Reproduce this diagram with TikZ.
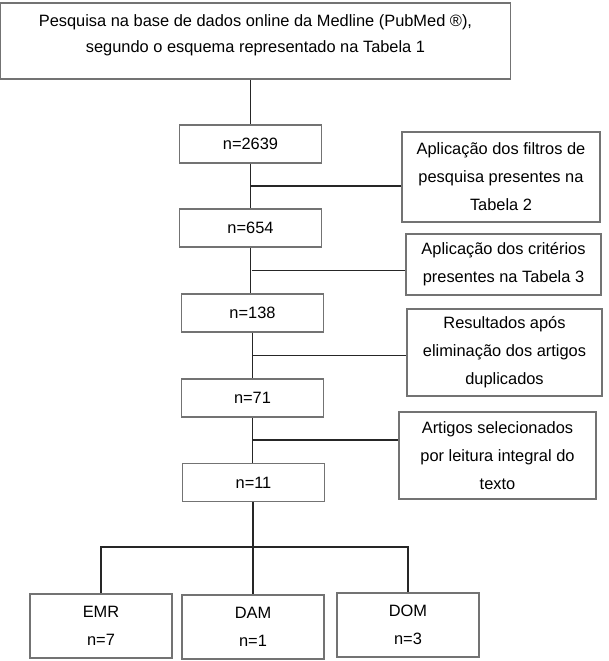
\documentclass[tikz,border=0pt]{standalone}
\usepackage{fontspec}
\setmainfont{Liberation Sans}
\usetikzlibrary{calc}

\begin{document}
\begin{tikzpicture}[x=0.75pt,y=-0.75pt,
  box/.style={draw=black!55,line width=0.8pt,inner sep=0pt,align=center,
    font=\fontsize{12.3}{21}\selectfont},
  count/.style={box,minimum width=106.5pt,minimum height=28.5pt},
  leaf/.style={box,minimum width=106.5pt,minimum height=48pt},
  link/.style={draw=black!85,line width=1.2pt}]
  \useasboundingbox (0,0) rectangle (609,661);
  % search box
  \node[box,minimum width=382pt,minimum height=57pt] (search) at (255.5,41) {};
  \node[align=center,inner sep=0pt,font=\fontsize{12.3}{19.5}\selectfont] (searchtext) at (255.5,35)
    {Pesquisa na base de dados online da Medline (PubMed ®),\\segundo o esquema representado na Tabela 1};
  % counts
  \node[count] (n1) at (250.5,144) {n=2639};
  \node[count] (n2) at (250.5,228) {n=654};
  \node[count] (n3) at (252.5,313) {n=138};
  \node[count] (n4) at (252.5,398) {n=71};
  \node[count] (n5) at (253.5,482.5) {n=11};
  % notes
  \node[box,minimum width=148.5pt,minimum height=67.5pt] (filtros) at (501,177)
    {Aplicação dos filtros de\\pesquisa presentes na\\Tabela 2};
  \node[box,minimum width=146.25pt,minimum height=45.75pt] (criterios) at (503.5,264.5)
    {Aplicação dos critérios\\presentes na Tabela 3};
  \node[box,minimum width=146.25pt,minimum height=65.25pt] (duplicados) at (504.5,352.5)
    {Resultados após\\eliminação dos artigos\\duplicados};
  \node[box,minimum width=147.75pt,minimum height=65.25pt] (leitura) at (497.5,455.5)
    {Artigos selecionados\\por leitura integral do\\texto};
  % groups
  \node[leaf] (emr) at (101,626) {EMR\\n=7};
  \node[leaf] (dam) at (253,627) {DAM\\n=1};
  \node[leaf] (dom) at (408,625) {DOM\\n=3};
  % main line
  \draw[link] (search.south -| n1.north) -- (n1.north);
  \draw[link] (n1.south) -- (n1.south |- n2.north);
  \draw[link] (n2.south) -- (n2.south |- n3.north);
  \draw[link] (n3.south) -- (n3.south |- n4.north);
  \draw[link] (n4.south) -- (n4.south |- n5.north);
  % side links
  \coordinate (j1) at ($(n1.south)!.5!(n2.north)$);
  \coordinate (j2) at ($(n2.south)!.5!(n3.north)$);
  \coordinate (j3) at ($(n3.south)!.5!(n4.north)$);
  \coordinate (j4) at ($(n4.south)!.5!(n5.north)$);
  \draw[link] (j1) -- (j1 -| filtros.west);
  \draw[link] (j2) -- (j2 -| criterios.west);
  \draw[link] (j3) -- (j3 -| duplicados.west);
  \draw[link] (j4) -- (j4 -| leitura.west);
  % split
  \coordinate (split) at (251,547);
  \draw[link] (n5.south -| dam.north) -- (dam.north);
  \draw[link] (emr.north) |- (split) -| (dom.north);
\end{tikzpicture}
\end{document}
